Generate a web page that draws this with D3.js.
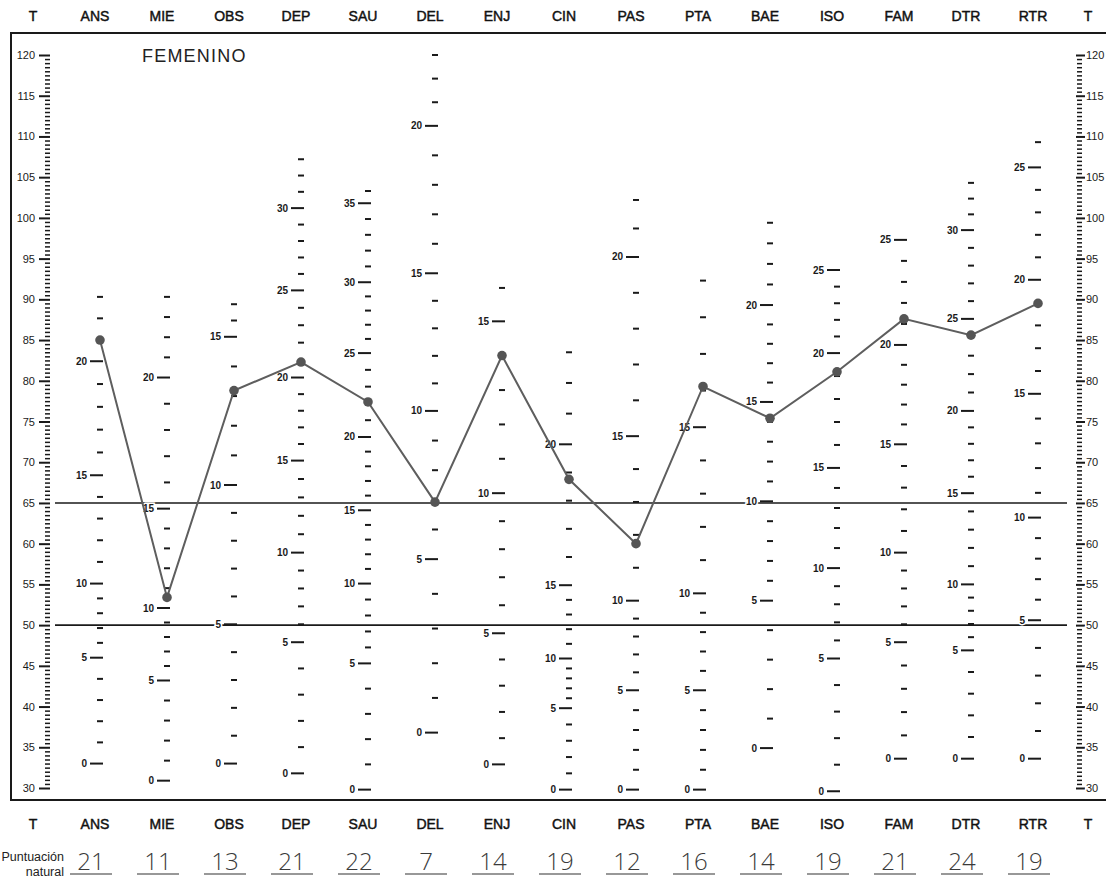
<!DOCTYPE html>
<html>
<head>
<meta charset="utf-8">
<script src="https://cdn.jsdelivr.net/npm/d3@7"></script>
<style>
  body { margin: 0; background: #fff; }
  svg { display: block; font-family: "Liberation Sans", Arial, sans-serif; }
  .num { font-size: 10px; font-weight: bold; fill: #1a1a1a; paint-order: stroke; stroke: #fff; stroke-width: 3px; }
  .tnum { font-size: 11px; fill: #1a1a1a; paint-order: stroke; stroke: #fff; stroke-width: 3px; }
  .head { font-size: 14px; fill: #111; stroke: #111; stroke-width: 0.45px; text-anchor: middle; }
  .hand { font-family: "Open Sans", sans-serif; font-weight: 300; font-size: 24px; fill: #3a3a3a; text-anchor: middle; }
</style>
</head>
<body>
<div id="chart"></div>
<script>
// scales of the profile, left to right
const scales = ["ANS", "MIE", "OBS", "DEP", "SAU", "DEL", "ENJ", "CIN", "PAS", "PTA", "BAE", "ISO", "FAM", "DTR", "RTR"];
// T score of each plotted point
const tScores = [85.0, 53.4, 78.8, 82.3, 77.4, 65.1, 83.1, 67.9, 60.0, 79.3, 75.4, 81.1, 87.6, 85.6, 89.5];
// handwritten raw scores (puntuación natural)
const rawScores = ["21", "11", "13", "21", "22", "7", "14", "19", "12", "16", "14", "19", "21", "24", "19"];
// T axis labels
const tLabels = [30, 35, 40, 45, 50, 55, 60, 65, 70, 75, 80, 85, 90, 95, 100, 105, 110, 115, 120];
const refLines = [65, 50];

// raw score -> T position of the printed raw-score marks on each column
const ansMarks = [[0, 33.0], [5, 46.0], [10, 55.1], [15, 68.4], [20, 82.4], [23, 90.3]];
const mieMarks = [[0, 30.9], [5, 43.2], [10, 52.1], [15, 64.3], [20, 80.4], [24, 90.3]];
const obsMarks = [[0, 33.0], [5, 50.1], [10, 67.2], [15, 85.4], [17, 89.4]];
const depMarks = [[0, 31.8], [5, 47.9], [10, 58.9], [15, 70.2], [20, 80.4], [25, 91.1], [30, 101.2], [33, 107.2]];
const sauMarks = [[0, 29.8], [5, 45.3], [10, 55.1], [15, 64.1], [20, 73.1], [25, 83.4], [30, 92.1], [35, 101.8], [36, 103.3]];
const delMarks = [[0, 36.8], [5, 58.1], [10, 76.3], [15, 93.2], [20, 111.3], [23, 120]];
const enjMarks = [[0, 32.9], [5, 49.0], [10, 66.2], [15, 87.3], [16, 91.4]];
const cinMarks = [[0, 29.8], [5, 39.8], [10, 45.9], [15, 54.9], [20, 72.2], [23, 83.5]];
const pasMarks = [[0, 29.8], [5, 42.0], [10, 53.0], [15, 73.2], [20, 95.2], [22, 102.2]];
const ptaMarks = [[0, 29.8], [5, 42.0], [10, 53.9], [15, 74.3], [19, 92.3]];
const baeMarks = [[0, 34.9], [5, 53.0], [10, 65.2], [15, 77.4], [20, 89.3], [24, 99.4]];
const isoMarks = [[0, 29.6], [5, 45.9], [10, 57.0], [15, 69.3], [20, 83.4], [25, 93.6]];
const famMarks = [[0, 33.6], [5, 47.9], [10, 58.9], [15, 72.2], [20, 84.4], [25, 97.3]];
const dtrMarks = [[0, 33.6], [5, 46.9], [10, 55.0], [15, 66.2], [20, 76.3], [25, 87.6], [30, 98.5], [33, 104.3]];
const rtrMarks = [[0, 33.6], [5, 50.6], [10, 63.2], [15, 78.4], [20, 92.4], [25, 106.2], [26, 109.3]];
const columnMarks = [ansMarks, mieMarks, obsMarks, depMarks, sauMarks, delMarks, enjMarks, cinMarks,
                     pasMarks, ptaMarks, baeMarks, isoMarks, famMarks, dtrMarks, rtrMarks];

const width = 1106, height = 883;
const ink = "#1a1a1a";

const svg = d3.select("#chart").append("svg")
    .attr("width", width)
    .attr("height", height);

const x = d3.scalePoint().domain(scales).range([100, 1038]);
const y = d3.scaleLinear().domain([30, 120]).range([788, 55]);

// frame
svg.append("path")
    .attr("d", `M${width + 5},33 H11 V800 H${width + 5}`)
    .attr("fill", "none")
    .attr("stroke", ink)
    .attr("stroke-width", 2);

// reference lines
svg.selectAll(".ref")
    .data(refLines)
    .enter()
    .append("line")
    .attr("x1", 55)
    .attr("x2", 1067)
    .attr("y1", d => y(d))
    .attr("y2", d => y(d))
    .attr("stroke", ink)
    .attr("stroke-width", 1.6);

// T axes, tick every half point
const halfTicks = d3.range(30, 120.01, 0.5);
const leftAxis = d3.axisLeft(y).tickValues(halfTicks).tickSize(0).tickFormat("");
const rightAxis = d3.axisRight(y).tickValues(halfTicks).tickSize(0).tickFormat("");

const gl = svg.append("g").attr("transform", "translate(50,0)").call(leftAxis);
gl.select(".domain").remove();
gl.selectAll(".tick line")
    .attr("x1", d => d % 5 === 0 ? -11 : -5)
    .attr("x2", 0)
    .attr("stroke", ink)
    .attr("stroke-width", d => d % 5 === 0 ? 2 : 1.5);
svg.selectAll(".tleft")
    .data(tLabels)
    .enter()
    .append("text")
    .attr("class", "tnum")
    .attr("x", 35)
    .attr("y", d => y(d) + 4)
    .attr("text-anchor", "end")
    .text(d => d);

const gr = svg.append("g").attr("transform", "translate(1076,0)").call(rightAxis);
gr.select(".domain").remove();
gr.selectAll(".tick line")
    .attr("x1", d => d % 5 === 0 ? 0 : 1)
    .attr("x2", d => d % 5 === 0 ? 9 : 6)
    .attr("stroke", ink)
    .attr("stroke-width", d => d % 5 === 0 ? 2 : 1.5);
svg.selectAll(".tright")
    .data(tLabels)
    .enter()
    .append("text")
    .attr("class", "tnum")
    .attr("x", 1086)
    .attr("y", d => y(d) + 4)
    .attr("text-anchor", "start")
    .text(d => d);

// raw-score columns
scales.forEach((name, i) => {
    const marks = columnMarks[i];
    const rawToT = d3.scaleLinear()
        .domain(marks.map(m => m[0]))
        .range(marks.map(m => m[1]));
    const top = d3.max(marks, m => m[0]);
    const raws = d3.range(0, top + 1);
    const cx = x(name);
    const g = svg.append("g").attr("class", "col");
    g.selectAll("line")
        .data(raws)
        .enter()
        .append("line")
        .attr("x1", r => r % 5 === 0 ? cx - 10 : cx - 3)
        .attr("x2", cx + 3)
        .attr("y1", r => y(rawToT(r)))
        .attr("y2", r => y(rawToT(r)))
        .attr("stroke", ink)
        .attr("stroke-width", 2);
    g.selectAll("text")
        .data(raws.filter(r => r % 5 === 0))
        .enter()
        .append("text")
        .attr("class", "num")
        .attr("x", cx - 13)
        .attr("y", r => y(rawToT(r)) + 3.5)
        .attr("text-anchor", "end")
        .text(r => r);
});

// profile
const line = d3.line()
    .x((d, i) => x(scales[i]))
    .y(d => y(d));

svg.append("path")
    .datum(tScores)
    .attr("d", line)
    .attr("fill", "none")
    .attr("stroke", "#5e5e5e")
    .attr("stroke-width", 2);

svg.selectAll(".dot")
    .data(tScores)
    .enter()
    .append("circle")
    .attr("cx", (d, i) => x(scales[i]))
    .attr("cy", d => y(d))
    .attr("r", 4.8)
    .attr("fill", "#555");

// title
svg.append("text")
    .attr("x", 142)
    .attr("y", 62)
    .attr("font-size", 18)
    .attr("letter-spacing", 1.2)
    .attr("fill", "#222")
    .text("FEMENINO");

// column headers, top and bottom
[21, 829].forEach(yy => {
    svg.selectAll(null)
        .data(scales)
        .enter()
        .append("text")
        .attr("class", "head")
        .attr("x", d => x(d) - 5)
        .attr("y", yy)
        .text(d => d);
    svg.append("text").attr("class", "head").attr("x", 33).attr("y", yy).text("T");
    svg.append("text").attr("class", "head").attr("x", 1088).attr("y", yy).text("T");
});

// puntuación natural
svg.append("text")
    .attr("x", 64).attr("y", 861)
    .attr("text-anchor", "end")
    .attr("font-size", 12.5)
    .attr("fill", "#222")
    .text("Puntuación");
svg.append("text")
    .attr("x", 64).attr("y", 876)
    .attr("text-anchor", "end")
    .attr("font-size", 12.5)
    .attr("fill", "#222")
    .text("natural");

svg.selectAll(".hand")
    .data(rawScores)
    .enter()
    .append("text")
    .attr("class", "hand")
    .attr("x", (d, i) => x(scales[i]) - 9)
    .attr("y", 870)
    .text(d => d);

svg.selectAll(".uline")
    .data(rawScores)
    .enter()
    .append("line")
    .attr("x1", (d, i) => x(scales[i]) - 30)
    .attr("x2", (d, i) => x(scales[i]) + 12)
    .attr("y1", 874)
    .attr("y2", 874)
    .attr("stroke", "#333")
    .attr("stroke-width", 1.2);
</script>
</body>
</html>
